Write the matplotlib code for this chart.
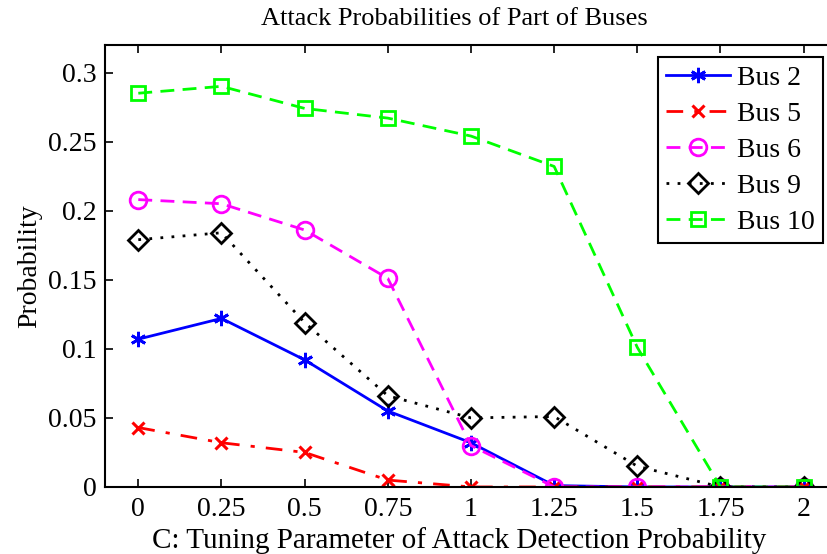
import matplotlib
matplotlib.use("Agg")
import matplotlib.pyplot as plt

# tuning parameter C
c_values = [0, 0.25, 0.5, 0.75, 1, 1.25, 1.5, 1.75, 2]

# attack probabilities
bus2 = [0.107, 0.122, 0.092, 0.055, 0.032, 0.001, 0.0, 0.0, 0.0]
bus5 = [0.043, 0.032, 0.025, 0.005, 0.0, 0.0, 0.0, 0.0, 0.0]
bus6 = [0.208, 0.205, 0.186, 0.151, 0.030, 0.0, 0.0, 0.0, 0.0]
bus9 = [0.179, 0.184, 0.119, 0.066, 0.050, 0.051, 0.015, 0.0, 0.0]
bus10 = [0.285, 0.290, 0.274, 0.267, 0.254, 0.232, 0.101, 0.0, 0.0]

x_ticks = [0, 0.25, 0.5, 0.75, 1, 1.25, 1.5, 1.75, 2]
x_tick_labels = ["0", "0.25", "0.5", "0.75", "1", "1.25", "1.5", "1.75", "2"]
y_ticks = [0, 0.05, 0.1, 0.15, 0.2, 0.25, 0.3]
y_tick_labels = ["0", "0.05", "0.1", "0.15", "0.2", "0.25", "0.3"]

plt.rcParams['font.family'] = ['Liberation Serif', 'DejaVu Serif']

fig = plt.figure(figsize=(8.27, 5.54), dpi=100)
# right edge of the axes runs past the figure, as in the cropped original
ax = fig.add_axes([0.127, 0.121, 0.885, 0.798])

asterisk = (6, 2, 0)
ax.plot(c_values, bus2, color='#0000ff', linestyle='-', linewidth=2,
        marker=asterisk, markersize=11, markeredgewidth=2, label='Bus 2')
ax.plot(c_values, bus5, color='#ff0000', linestyle='-.', linewidth=2,
        marker='x', markersize=8, markeredgewidth=2.2, label='Bus 5',
        dashes=(6, 4, 1.5, 4))
ax.plot(c_values, bus6, color='#ff00ff', linestyle='--', linewidth=2,
        marker='o', markersize=12, markerfacecolor='none', markeredgewidth=2,
        label='Bus 6', dashes=(5, 3))
ax.plot(c_values, bus9, color='black', linestyle=':', linewidth=2,
        marker='D', markersize=10, markerfacecolor='none', markeredgewidth=2,
        label='Bus 9', dashes=(1, 3))
ax.plot(c_values, bus10, color='#00ff00', linestyle='--', linewidth=2,
        marker='s', markersize=10, markerfacecolor='none', markeredgewidth=2,
        label='Bus 10', dashes=(5, 3))

ax.set_xlim(-0.1, 2.1)
ax.set_ylim(0, 0.32)
ax.set_xticks(x_ticks)
ax.set_xticklabels(x_tick_labels)
ax.set_yticks(y_ticks)
ax.set_yticklabels(y_tick_labels)
ax.tick_params(axis='both', direction='in', length=6, width=1.2, labelsize=20,
               top=True, right=True)
ax.tick_params(axis='x', pad=7)
ax.tick_params(axis='y', pad=6)
for sp in ax.spines.values():
    sp.set_linewidth(1.5)

ax.set_xlabel("C: Tuning Parameter of Attack Detection Probability", fontsize=21,
              labelpad=4, x=0.484)
ax.set_ylabel("Probability", fontsize=20, labelpad=4)
ax.set_title("Attack Probabilities of Part of Buses", fontsize=19, pad=14, x=0.477)

leg = ax.legend(loc='upper right', bbox_to_anchor=(823 / 827, 1 - 57 / 554),
                bbox_transform=fig.transFigure, fontsize=20, handlelength=2.3,
                handletextpad=0.25, labelspacing=0.38, borderpad=0.3,
                borderaxespad=0, numpoints=1, fancybox=False, framealpha=1,
                edgecolor='black')
leg.get_frame().set_linewidth(1.5)

fig.savefig("out.png", dpi=100)
